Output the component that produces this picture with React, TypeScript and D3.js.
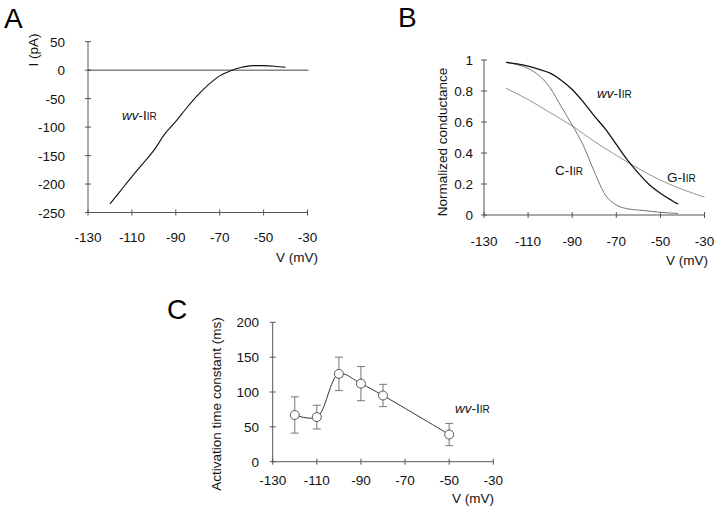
import React from 'react'
import * as d3 from 'd3'

// Panel A: I-V relation of wv-IIR
const aVoltage = [-120, -115, -110, -105, -100, -95, -90, -85, -80, -75, -70, -65, -60, -55, -50, -45, -40]
const aCurrent = [-235, -211, -187, -164, -141, -112, -90, -66, -44, -25, -10, -1, 5, 8, 8, 7, 5]
const aYTicks = [50, 0, -50, -100, -150, -200, -250]

// Panel B: normalized conductance
const bVoltage = [-120, -115, -110, -105, -100, -95, -90, -85, -80, -75, -70, -65, -60, -55, -50, -45, -42]
const bWv = [0.985, 0.975, 0.96, 0.94, 0.915, 0.87, 0.81, 0.73, 0.64, 0.555, 0.455, 0.355, 0.27, 0.195, 0.14, 0.095, 0.07]
const bC = [0.985, 0.97, 0.945, 0.9, 0.82, 0.7, 0.58, 0.45, 0.28, 0.13, 0.065, 0.04, 0.032, 0.025, 0.017, 0.012, 0.01]
const bGVoltage = [-120, -110, -100, -90, -80, -70, -60, -50, -40, -30]
const bG = [0.817, 0.745, 0.66, 0.575, 0.475, 0.385, 0.3, 0.225, 0.165, 0.115]
const bYTicks = [0, 0.2, 0.4, 0.6, 0.8, 1]

// Panel C: activation time constant
const cVoltage = [-120, -110, -100, -90, -80, -50]
const cTau = [67, 64, 126, 112, 95, 39]
const cErr = [26, 17, 24, 24.5, 16, 16]
const cYTicks = [0, 50, 100, 150, 200]

const vTicks = [-130, -110, -90, -70, -50, -30]

const font = '"Liberation Sans", Arial, Helvetica, sans-serif'
const axisColor = '#555'
const labelSize = 13.5

function IirLabel({ x, y, prefix, italic }) {
  return (
    <text x={x} y={y} fontSize={13.5} fill="#111">
      {italic ? <tspan fontStyle="italic">{prefix}</tspan> : <tspan>{prefix}</tspan>}
      <tspan>-I</tspan>
      <tspan fontSize={10}>IR</tspan>
    </text>
  )
}

function Axes({ x, y, yTicks, yLabelX, xLabelY, vLabel, yTitle }) {
  const [x0, x1] = x.range()
  const [yb, yt] = y.range()
  return (
    <g fontFamily={font} fontSize={labelSize} fill="#111">
      <line x1={x0} x2={x0} y1={yt} y2={yb} stroke={axisColor} />
      <line x1={x0} x2={x1} y1={yb} y2={yb} stroke={axisColor} />
      {yTicks.map(t => (
        <g key={'y' + t}>
          <line x1={x0 - 3} x2={x0 + 3} y1={y(t)} y2={y(t)} stroke={axisColor} />
          <text x={yLabelX} y={y(t) + 5} textAnchor="end">{t}</text>
        </g>
      ))}
      {vTicks.map(t => (
        <g key={'x' + t}>
          <line x1={x(t)} x2={x(t)} y1={yb - 3} y2={yb + 3} stroke={axisColor} />
          <text x={x(t)} y={xLabelY} textAnchor="middle">{t}</text>
        </g>
      ))}
      <text x={vLabel[0]} y={vLabel[1]} textAnchor="end">V (mV)</text>
      <text
        transform={`translate(${yTitle[0]},${yTitle[1]}) rotate(-90)`}
        textAnchor="middle"
      >{yTitle[2]}</text>
    </g>
  )
}

export default function App() {
  // Panel A scales
  const ax = d3.scaleLinear().domain([-130, -30]).range([88, 307.5])
  const ay = d3.scaleLinear().domain([-250, 50]).range([212.5, 41.7])
  const aLine = d3.line().curve(d3.curveMonotoneX)
    .x(d => ax(d[0])).y(d => ay(d[1]))
  const aPts = aVoltage.map((v, i) => [v, aCurrent[i]])

  // Panel B scales
  const bx = d3.scaleLinear().domain([-130, -30]).range([484, 704.5])
  const by = d3.scaleLinear().domain([0, 1]).range([215, 60])
  const bLine = d3.line().curve(d3.curveMonotoneX)
    .x(d => bx(d[0])).y(d => by(d[1]))

  // Panel C scales
  const cx = d3.scaleLinear().domain([-130, -30]).range([272.7, 493.3])
  const cy = d3.scaleLinear().domain([0, 200]).range([461.7, 322.3])
  const cLine = d3.line().curve(d3.curveCatmullRom.alpha(0.5))
    .x(d => cx(d[0])).y(d => cy(d[1]))
  const cPts = cVoltage.map((v, i) => [v, cTau[i]])

  return (
    <svg width={720} height={514} style={{ position: 'absolute', left: 0, top: 0, background: '#fff' }}>
      {/* panel letters */}
      <g fontFamily={font} fontSize={28} fill="#000">
        <text x={4} y={28}>A</text>
        <text x={398} y={27}>B</text>
        <text x={167} y={319}>C</text>
      </g>

      {/* A */}
      <Axes x={ax} y={ay} yTicks={aYTicks} yLabelX={65} xLabelY={242}
        vLabel={[318, 262]} yTitle={[38, 50, 'I (pA)']} />
      <line x1={ax(-130)} x2={ax(-29.5)} y1={ay(0)} y2={ay(0)} stroke="#333" strokeWidth={0.9} />
      <path d={aLine(aPts)} fill="none" stroke="#111" strokeWidth={1.1} />
      <g fontFamily={font}><IirLabel x={122} y={120} prefix="wv" italic /></g>

      {/* B */}
      <Axes x={bx} y={by} yTicks={bYTicks} yLabelX={473} xLabelY={245.5}
        vLabel={[708, 265]} yTitle={[447, 142, 'Normalized conductance']} />
      <path d={bLine(bGVoltage.map((v, i) => [v, bG[i]]))} fill="none" stroke="#888" strokeWidth={0.9} />
      <path d={bLine(bVoltage.map((v, i) => [v, bC[i]]))} fill="none" stroke="#666" strokeWidth={0.9} />
      <path d={bLine(bVoltage.map((v, i) => [v, bWv[i]]))} fill="none" stroke="#111" strokeWidth={1.3} />
      <g fontFamily={font}>
        <IirLabel x={597} y={98} prefix="wv" italic />
        <IirLabel x={555} y={175} prefix="C" />
        <IirLabel x={667} y={182} prefix="G" />
      </g>

      {/* C */}
      <Axes x={cx} y={cy} yTicks={cYTicks} yLabelX={259} xLabelY={485}
        vLabel={[494, 503]} yTitle={[221, 404, 'Activation time constant (ms)']} />
      <path d={cLine(cPts)} fill="none" stroke="#333" strokeWidth={1} />
      <g stroke="#777" strokeWidth={1}>
        {cPts.map((p, i) => (
          <g key={i}>
            <line x1={cx(p[0])} x2={cx(p[0])} y1={cy(p[1] + cErr[i])} y2={cy(p[1] - cErr[i])} />
            <line x1={cx(p[0]) - 4} x2={cx(p[0]) + 4} y1={cy(p[1] + cErr[i])} y2={cy(p[1] + cErr[i])} />
            <line x1={cx(p[0]) - 4} x2={cx(p[0]) + 4} y1={cy(p[1] - cErr[i])} y2={cy(p[1] - cErr[i])} />
          </g>
        ))}
      </g>
      {cPts.map((p, i) => (
        <circle key={'c' + i} cx={cx(p[0])} cy={cy(p[1])} r={4.5} fill="#fff" stroke="#555" strokeWidth={1} />
      ))}
      <g fontFamily={font}><IirLabel x={455} y={413} prefix="wv" italic /></g>
    </svg>
  )
}
